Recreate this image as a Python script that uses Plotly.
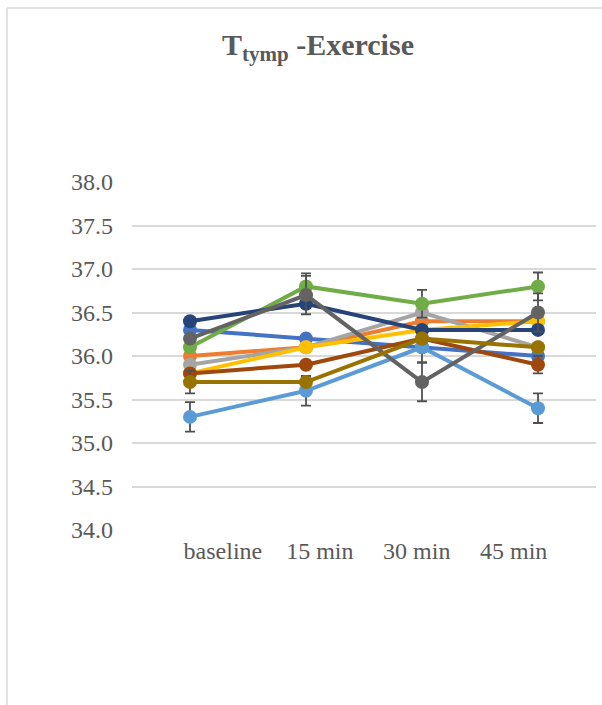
import plotly.graph_objects as go

# Time points of the exercise protocol
categories = ["baseline", "15 min", "30 min", "45 min"]

# Tympanic temperature (°C) per participant
s1 = [36.3, 36.2, 36.1, 36.0]
s2 = [36.0, 36.1, 36.4, 36.4]
s3 = [35.9, 36.1, 36.5, 36.1]
s4 = [35.8, 36.1, 36.3, 36.4]
s5 = [35.3, 35.6, 36.1, 35.4]
s6 = [36.1, 36.8, 36.6, 36.8]
s7 = [36.4, 36.6, 36.3, 36.3]
s8 = [35.8, 35.9, 36.2, 35.9]
s9 = [36.2, 36.7, 35.7, 36.5]
s10 = [35.7, 35.7, 36.2, 36.1]

# Error bar half-lengths (None = no bar drawn)
e5 = [0.17, 0.17, 0.17, 0.17]
e6 = [None, 0.15, 0.16, 0.16]
e8 = [None, None, None, 0.10]
e9 = [None, 0.22, 0.22, 0.22]
e10 = [0.13, None, None, None]

series = [s1, s2, s3, s4, s5, s6, s7, s8, s9, s10]
errors = [None, None, None, None, e5, e6, None, e8, e9, e10]
colors = ["#4472C4", "#ED7D31", "#A5A5A5", "#FFC000", "#5B9BD5",
          "#70AD47", "#264478", "#9E480E", "#636363", "#997300"]

y_ticks = [34.0, 34.5, 35.0, 35.5, 36.0, 36.5, 37.0, 37.5, 38.0]

W, H = 602, 705
L, R, T, B = 132, 6, 182, 175

fig = go.Figure()
idx = list(range(len(categories)))
for vals, err, col in zip(series, errors, colors):
    kw = {}
    if err is not None:
        kw["error_y"] = dict(type="data", array=err, visible=True,
                             color="#505050", thickness=1.8, width=5)
    fig.add_trace(go.Scatter(
        x=idx, y=vals, mode="lines+markers",
        line=dict(color=col, width=4),
        marker=dict(color=col, size=14),
        showlegend=False, hoverinfo="skip", **kw))

# Category labels carried by a second x axis
fig.add_trace(go.Scatter(x=idx, y=[None] * len(idx), xaxis="x2",
                         showlegend=False, hoverinfo="skip"))

font_family = "'Times New Roman', 'Liberation Serif', serif"
fig.update_layout(
    width=W, height=H,
    margin=dict(l=L, r=R, t=T, b=B),
    paper_bgcolor="white", plot_bgcolor="white",
    title=dict(
        text="<b>T<sub>tymp</sub> -Exercise</b>",
        x=318 / W, xanchor="center", y=1 - 44 / H, yanchor="middle",
        font=dict(family=font_family, size=30, color="#595959")),
    xaxis=dict(range=[-0.5, len(categories) - 0.5], showticklabels=False,
               showgrid=False, zeroline=False, showline=False),
    xaxis2=dict(overlaying="x", side="bottom", anchor="y",
                range=[-0.938, 3.85], tickvals=idx, ticktext=categories,
                showgrid=False, zeroline=False, showline=False,
                ticklabelstandoff=4,
                tickfont=dict(family=font_family, size=24, color="#595959")),
    yaxis=dict(range=[34, 38], tickvals=y_ticks,
               ticktext=[f"{v:.1f}" for v in y_ticks],
               showgrid=True, gridcolor="#D9D9D9", gridwidth=1.5,
               zeroline=False, showline=False, ticklabelstandoff=18,
               tickfont=dict(family=font_family, size=24, color="#595959")),
    shapes=[
        dict(type="line", xref="paper", yref="paper",
             x0=(7 - L) / (W - L - R), x1=(W - L) / (W - L - R),
             y0=1 + (T - 8) / (H - T - B), y1=1 + (T - 8) / (H - T - B),
             line=dict(color="#D9D9D9", width=1.5)),
        dict(type="line", xref="paper", yref="paper",
             x0=(7 - L) / (W - L - R), x1=(7 - L) / (W - L - R),
             y0=-B / (H - T - B), y1=1 + (T - 8) / (H - T - B),
             line=dict(color="#D9D9D9", width=1.5)),
    ],
)

fig.write_html("out.html")
